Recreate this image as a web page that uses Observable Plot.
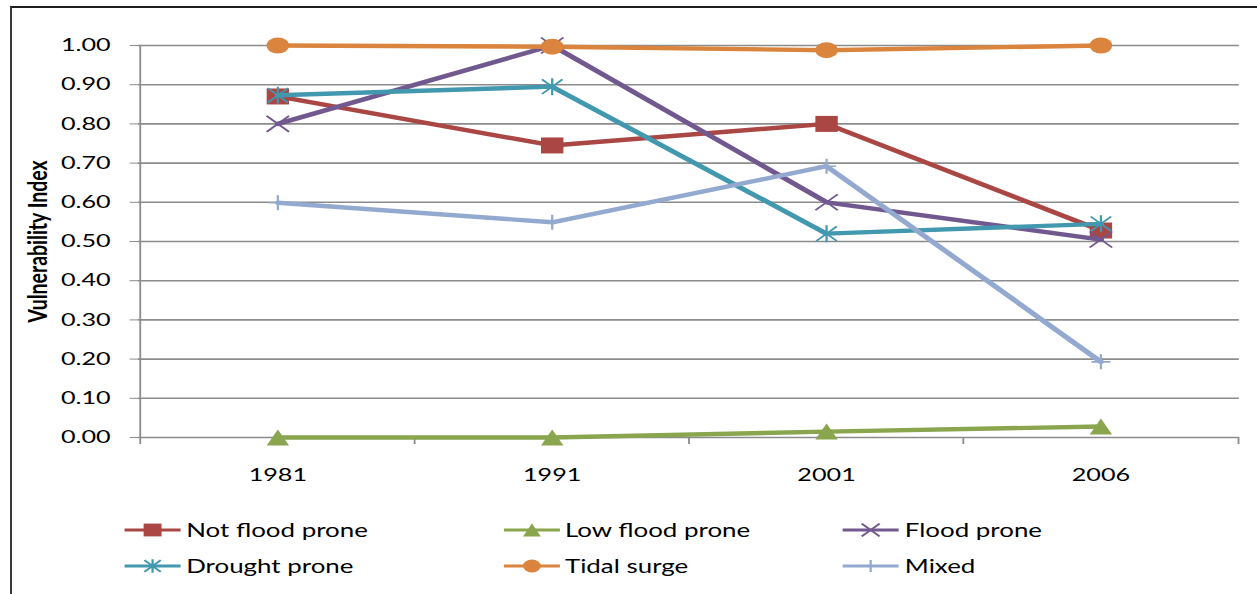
<!DOCTYPE html>
<html>
<head>
<meta charset="utf-8">
<script src="https://cdn.jsdelivr.net/npm/d3@7"></script>
<script src="https://cdn.jsdelivr.net/npm/@observablehq/plot@0.6"></script>
<style>
  html, body { margin: 0; padding: 0; background: #fff; overflow: hidden; }
  body { width: 1257px; height: 594px; position: relative; }
  #border { position: absolute; left: 10px; top: 6px; width: 1400px; height: 700px;
            border-left: 2px solid #3c3c3c; border-top: 2px solid #1e1e1e; }
  #figure { position: absolute; left: 0; top: 0; width: 898px; transform-origin: 0 0;
            font-family: Lato, "Open Sans", sans-serif; }
  #figure svg { display: block; overflow: visible; }
  #legend { position: relative; height: 94px; }
  .item { position: absolute; display: flex; align-items: center; height: 24px;
          font-size: 18.5px; color: #000; white-space: nowrap; }
  .item svg { margin-right: 4px; }
</style>
</head>
<body>
<div id="border"></div>
<div id="figure"></div>
<script>
// Census years on the category axis
const years = ["1981", "1991", "2001", "2006"];

// Vulnerability index per zone type
const seriesNames = ["Not flood prone", "Low flood prone", "Flood prone", "Drought prone", "Tidal surge", "Mixed"];
const notFloodProne = [0.870, 0.745, 0.800, 0.528];
const lowFloodProne = [0.000, 0.000, 0.015, 0.028];
const floodProne    = [0.800, 1.000, 0.600, 0.505];
const droughtProne  = [0.873, 0.895, 0.520, 0.545];
const tidalSurge    = [1.000, 0.997, 0.988, 1.000];
const mixed         = [0.599, 0.549, 0.692, 0.193];

const seriesColors = ["#AA4643", "#89A54E", "#71588F", "#4198AF", "#DB843D", "#93A9CF"];

// Value-axis ticks
const yTicks = [0, 0.1, 0.2, 0.3, 0.4, 0.5, 0.6, 0.7, 0.8, 0.9, 1.0];

// Marker shapes: size arrives as r²·π
const rOf = size => Math.sqrt(size / Math.PI);
const markSquare = {draw(c, s) { const r = rOf(s); c.rect(-r, -r, 2 * r, 2 * r); }};
const markTriangle = {draw(c, s) { const r = rOf(s); c.moveTo(0, -r); c.lineTo(r, r); c.lineTo(-r, r); c.closePath(); }};
const markTimes = {draw(c, s) { const r = rOf(s); c.moveTo(-r, -r); c.lineTo(r, r); c.moveTo(-r, r); c.lineTo(r, -r); }};
const markStar = {draw(c, s) { const r = rOf(s), d = r * 0.86; c.moveTo(0, -r); c.lineTo(0, r); c.moveTo(-d, -d); c.lineTo(d, d); c.moveTo(-d, d); c.lineTo(d, -d); }};
const markCircle = {draw(c, s) { const r = rOf(s); c.moveTo(r, 0); c.arc(0, 0, r, 0, 2 * Math.PI); }};
const markPlus = {draw(c, s) { const r = rOf(s); c.moveTo(0, -r); c.lineTo(0, r); c.moveTo(-r * 0.9, 0); c.lineTo(r * 0.9, 0); }};

const seriesValues = [notFloodProne, lowFloodProne, floodProne, droughtProne, tidalSurge, mixed];
const seriesMarkers = [
  {symbol: markSquare,   r: 8,   filled: true},
  {symbol: markTriangle, r: 8,   filled: true},
  {symbol: markTimes,    r: 8,   filled: false},
  {symbol: markStar,     r: 8.5, filled: false},
  {symbol: markCircle,   r: 8,   filled: true},
  {symbol: markPlus,     r: 7.5, filled: false}
];

// Long table built from the arrays above
const rows = seriesNames.flatMap((name, i) =>
  years.map((year, j) => ({series: name, year, value: seriesValues[i][j]})));

// Layout (the figure is widened horizontally by a CSS scale)
const stretch = 1257 / 898;
const W = 898, H = 500;
const mL = 98.6, mR = 13, mT = 45, mB = 63;
const step = (W - mL - mR) / years.length;
const gridColor = "#8c8c8c";

const seriesMarks = seriesNames.flatMap((name, i) => {
  const data = rows.filter(d => d.series === name);
  const m = seriesMarkers[i];
  return [
    Plot.line(data, {x: "year", y: "value", stroke: seriesColors[i], strokeWidth: 4.4, strokeLinejoin: "round"}),
    Plot.dot(data, {
      x: "year", y: "value", symbol: m.symbol, r: m.r,
      fill: m.filled ? seriesColors[i] : "none",
      stroke: seriesColors[i], strokeWidth: m.filled ? 0 : 1.6
    })
  ];
});

const chart = Plot.plot({
  width: W, height: H,
  marginLeft: mL, marginRight: mR, marginTop: mT, marginBottom: mB,
  style: {fontFamily: "Lato, 'Open Sans', sans-serif", fontSize: "18px", color: "#000", background: "transparent"},
  x: {type: "point", domain: years, padding: 0.5},
  y: {domain: [0, 1]},
  marks: [
    Plot.ruleY(yTicks, {stroke: gridColor, strokeWidth: 1.6}),
    Plot.ruleX([years[0]], {y1: 0, y2: 1, dx: -step / 2, stroke: gridColor, strokeWidth: 1.3}),
    Plot.axisY(yTicks, {tickSize: 6, tickPadding: 14, tickFormat: d3.format(".2f"), stroke: gridColor, label: null}),
    Plot.axisX({tickSize: 0, tickPadding: 31, label: null}),
    Plot.ruleX(years, {y1: 0, y2: 0, insetBottom: -7, dx: -step / 2, stroke: gridColor, strokeWidth: 1.3}),
    Plot.ruleX(years.slice(-1), {y1: 0, y2: 0, insetBottom: -7, dx: step / 2, stroke: gridColor, strokeWidth: 1.3}),
    Plot.text(["Vulnerability Index"], {
      text: d => d, frameAnchor: "left", textAnchor: "middle", lineAnchor: "middle",
      rotate: -90, dx: -72, fontWeight: "bold", fontSize: 19.5, fill: "#000"
    }),
    ...seriesMarks
  ]
});

const figure = document.getElementById("figure");
figure.style.transform = `scaleX(${stretch})`;
figure.appendChild(chart);

// Legend below the plot: three columns, two rows
const legend = document.createElement("div");
legend.id = "legend";
figure.appendChild(legend);
const textLefts = [133, 403.6, 646.4];
const rowCenters = [30, 66];
seriesNames.forEach((name, i) => {
  const col = i % 3, row = Math.floor(i / 3);
  const item = document.createElement("div");
  item.className = "item";
  item.style.left = (textLefts[col] - 44) + "px";
  item.style.top = (rowCenters[row] - 12) + "px";
  const m = seriesMarkers[i];
  const sw = d3.create("svg").attr("width", 40).attr("height", 20);
  sw.append("line").attr("x1", 0).attr("x2", 40).attr("y1", 10).attr("y2", 10)
    .attr("stroke", seriesColors[i]).attr("stroke-width", 3);
  const rr = m.r * 0.8;
  sw.append("path")
    .attr("transform", "translate(20,10)")
    .attr("d", d3.symbol(m.symbol, rr * rr * Math.PI)())
    .attr("fill", m.filled ? seriesColors[i] : "none")
    .attr("stroke", m.filled ? "none" : seriesColors[i])
    .attr("stroke-width", 1.6);
  item.appendChild(sw.node());
  const label = document.createElement("span");
  label.textContent = name;
  item.appendChild(label);
  legend.appendChild(item);
});
</script>
</body>
</html>
